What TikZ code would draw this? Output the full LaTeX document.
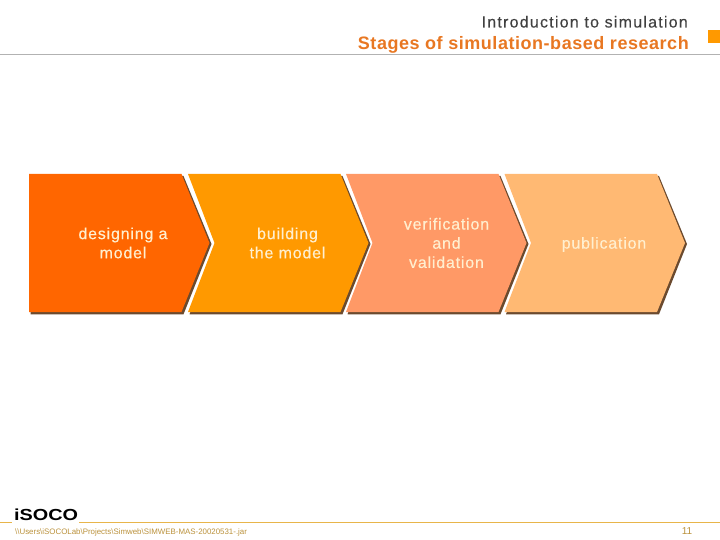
\documentclass[tikz,border=0pt]{standalone}
\usepackage{fontspec}
\setmainfont{Liberation Sans}
\definecolor{stageone}{HTML}{FF6600}
\definecolor{stagetwo}{HTML}{FF9900}
\definecolor{stagethree}{HTML}{FF9966}
\definecolor{stagefour}{HTML}{FFB973}
\definecolor{stageshadow}{HTML}{6B4A2E}
\definecolor{stagetext}{HTML}{FFEFCF}
\definecolor{titleorange}{HTML}{E87722}
\definecolor{footline}{HTML}{E8B54A}
\tikzset{
  stagelabel/.style={align=center,text=stagetext,font=\fontsize{16}{19.2}\selectfont\addfontfeature{LetterSpace=5,FakeBold=0.25},inner sep=0pt},
  footlabel/.style={text=footline!80!black,font=\fontsize{7.9}{10}\selectfont,inner sep=0pt}
}
\begin{document}
\begin{tikzpicture}[x=1pt,y=-1pt]
  \useasboundingbox (0,0) rectangle (720,540);
  % header
  \node[anchor=base east,inner sep=0pt,text=black!75,font=\fontsize{16}{19}\selectfont] (intro) at (688,27.5) {\addfontfeature{LetterSpace=7.7,FakeBold=0.15}Introduction to simulation};
  \node[anchor=base east,inner sep=0pt,text=titleorange,font=\bfseries\fontsize{18}{20}\selectfont] (title) at (689,49.5) {\addfontfeature{LetterSpace=3}Stages of simulation-based research};
  \draw[black!30] (0,54.5) -- (720,54.5);
  \fill[stagetwo] (708,30) rectangle (720,43);
  % stages
  \fill[stageshadow] (30.5,176) -- (183.5,176) -- (211.5,244) -- (183.5,314.3) -- (30.5,314.3) -- cycle;
  \fill[stageone] (29,174) -- (181.5,174) -- (209.5,243) -- (181.5,312) -- (29,312) -- cycle;
  \foreach \x/\col in {188/stagetwo,346/stagethree,504.5/stagefour} {
      \fill[stageshadow] (\x+1.5,176) -- (\x+154.5,176) -- (\x+182.5,244) -- (\x+154.5,314.3) -- (\x+1.5,314.3) -- (\x+28,244) -- cycle;
      \fill[\col] (\x,174) -- (\x+152.5,174) -- (\x+180.5,243) -- (\x+152.5,312) -- (\x,312) -- (\x+26.5,243) -- cycle;
  }
  \node[stagelabel] (design) at (123,243) {designing a\\model};
  \node[stagelabel] (build) at (287.5,243) {building\\the model};
  \node[stagelabel] (verify) at (446.5,243) {verification\\and\\validation};
  \node[stagelabel] (publish) at (604,244.5) {publication};
  % footer
  \draw[footline] (0,522.5) -- (12,522.5) (79,522.5) -- (720,522.5);
  \node[anchor=base west,inner sep=0pt,font=\bfseries\fontsize{16}{16}\selectfont] (logo) at (14,520) {\addfontfeature{FakeStretch=1.24}iSOCO};
  \node[footlabel,anchor=base west] (path) at (15,534) {\textbackslash\textbackslash Users\textbackslash iSOCOLab\textbackslash Projects\textbackslash Simweb\textbackslash SIMWEB-MAS-20020531-.jar};
  \node[footlabel,anchor=base,font=\fontsize{10}{12}\selectfont] (page) at (687,534) {11};
\end{tikzpicture}
\end{document}
